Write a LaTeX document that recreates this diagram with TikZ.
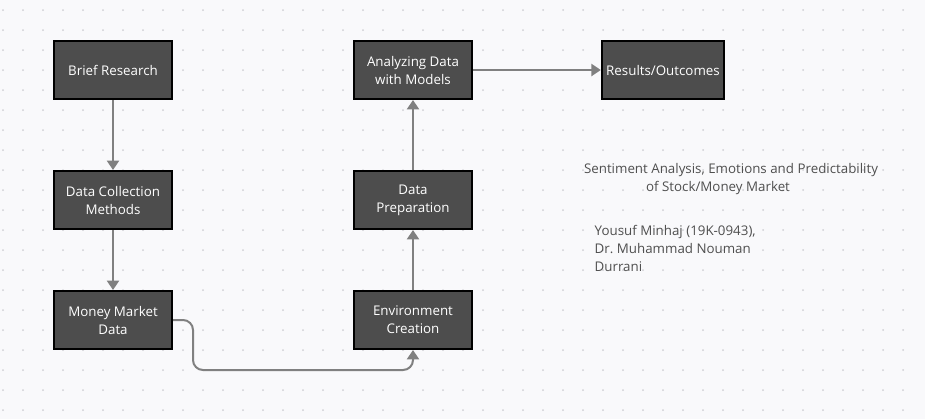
\documentclass[tikz,border=0pt]{standalone}
\usepackage{fontspec}
\setmainfont{Open Sans}
\usetikzlibrary{arrows.meta}
\definecolor{canvas}{HTML}{F9F9FB}
\definecolor{griddot}{HTML}{D0D0D4}
\definecolor{boxfill}{HTML}{4D4D4D}
\definecolor{linkgray}{HTML}{808080}
\definecolor{notegray}{HTML}{4F4F4F}
\tikzset{
  stagebox/.style={draw=black, line width=1.5pt, fill=boxfill, text=white,
    minimum width=88.5pt, minimum height=43.5pt, align=center,
    font=\fontsize{10}{13.5}\selectfont},
  link/.style={draw=linkgray, line width=1.5pt,
    -{Triangle[width=9pt,length=7pt]}},
  note/.style={text=notegray, font=\fontsize{10}{13.5}\selectfont}
}
\begin{document}
\begin{tikzpicture}[x=0.75pt, y=-0.75pt]
      \fill[canvas] (0,0) rectangle (925,419);
      \useasboundingbox (0,0) rectangle (925,419);
      \foreach \i in {0,...,45}
        \foreach \j in {0,...,20}
          \fill[griddot] (3+20*\i, 10+20*\j) circle (0.75pt);
      \draw
        (113,70) node[stagebox] (research){Brief Research}
        (113,200) node[stagebox] (collection){Data Collection\\Methods}
        (113,320) node[stagebox] (market){Money Market\\Data}
        (413,320) node[stagebox] (environment){Environment\\Creation}
        (413,200) node[stagebox] (preparation){Data\\Preparation}
        (413,70) node[stagebox] (analyzing){Analyzing Data\\with Models}
        (663,70) node[stagebox] (results){Results/Outcomes};
      \node[note, align=center] (title) at (731,179)
        {Sentiment Analysis, Emotions and Predictability\\of Stock/Money Market\hspace{19.5pt}\mbox{}};
      \node[note, align=left, anchor=west] (authors) at (590,248)
        {Yousuf Minhaj (19K-0943),\\Dr.\ Muhammad Nouman\\Durrani};
      \coordinate (bendtop) at (193,320);
      \coordinate (bendlow) at (193,370);
      \begin{scope}[link]
        \draw (research) to (collection);
        \draw (collection) to (market);
        \draw[rounded corners=7.5pt] (market.east) -- (bendtop) -- (bendlow)
          -- (environment.south |- bendlow) -- (environment.south);
        \draw (environment) to (preparation);
        \draw (preparation) to (analyzing);
        \draw (analyzing) to (results);
      \end{scope}
    \end{tikzpicture}
\end{document}
